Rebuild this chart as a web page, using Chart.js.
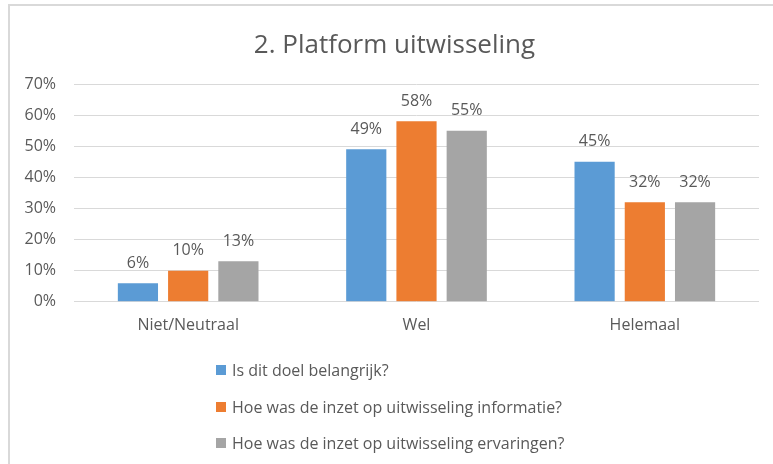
<!DOCTYPE html>
<html>
<head>
<meta charset="utf-8">
<script src="https://cdn.jsdelivr.net/npm/chart.js@4/dist/chart.umd.min.js"></script>
<style>
  html, body { margin: 0; padding: 0; background: #fff; }
  #wrap { position: relative; width: 773px; height: 464px; overflow: hidden; font-family: "Open Sans", sans-serif; }
  #frame { position: absolute; left: 8px; top: 4px; right: 0; bottom: 0; border-left: 2px solid #d9d9d9; border-top: 2px solid #d9d9d9; pointer-events: none; }
  canvas { position: absolute; left: 0; top: 0; }
  #title { position: absolute; left: 16px; right: 0; top: 28px; margin: 0; line-height: 30px; font-size: 26px; font-weight: normal; color: #595959; text-align: center; }
  #legend { position: absolute; left: 216px; top: 352px; margin: 0; padding: 0; list-style: none; }
  #legend li { height: 36.5px; display: flex; align-items: center; font-size: 16px; color: #595959; white-space: nowrap; }
  #legend li span { display: inline-block; width: 10px; height: 10px; margin-right: 6px; }
</style>
</head>
<body>
<div id="wrap">
  <canvas id="chart" width="773" height="464"></canvas>
  <h1 id="title">2. Platform uitwisseling</h1>
  <ul id="legend"></ul>
  <div id="frame"></div>
</div>
<script>
const categories = ["Niet/Neutraal", "Wel", "Helemaal"]
const seriesNames = [
  "Is dit doel belangrijk?",
  "Hoe was de inzet op uitwisseling informatie?",
  "Hoe was de inzet op uitwisseling ervaringen?"
]
const belangrijk = [6, 49, 45]
const informatie = [10, 58, 32]
const ervaringen = [13, 55, 32]
const colors = ["#5B9BD5", "#ED7D31", "#A5A5A5"]

const font = "'Open Sans', sans-serif"
const textColor = "#595959"

// value labels above each bar
const barLabels = {
  id: "barLabels",
  afterDatasetsDraw(chart) {
    const ctx = chart.ctx
    ctx.save()
    ctx.font = "16px " + font
    ctx.fillStyle = textColor
    ctx.textAlign = "center"
    ctx.textBaseline = "bottom"
    chart.data.datasets.forEach((ds, i) => {
      chart.getDatasetMeta(i).data.forEach((bar, j) => {
        ctx.fillText(ds.data[j] + "%", bar.x, bar.y - 12)
      })
    })
    ctx.restore()
  }
}

const chart = new Chart(document.getElementById("chart"), {
  type: "bar",
  data: {
    labels: categories,
    datasets: [belangrijk, informatie, ervaringen].map((d, i) => ({
      label: seriesNames[i],
      data: d,
      backgroundColor: colors[i],
      barPercentage: 0.8,
      categoryPercentage: 0.66
    }))
  },
  options: {
    responsive: false,
    animation: false,
    layout: { padding: { left: 8, right: 14, top: 84, bottom: 115 } },
    plugins: {
      legend: { display: false },
      tooltip: { enabled: false },
      title: { display: false }
    },
    scales: {
      x: {
        grid: { display: false, drawTicks: false },
        border: { display: false },
        ticks: { color: textColor, font: { family: font, size: 16 }, padding: 14 }
      },
      y: {
        min: 0,
        max: 70,
        afterFit(scale) { scale.width = 66 },
        grid: { color: "#d9d9d9", drawTicks: false },
        border: { display: false },
        ticks: {
          stepSize: 10,
          padding: 18,
          color: textColor,
          font: { family: font, size: 16 },
          callback: v => v + "%"
        }
      }
    }
  },
  plugins: [barLabels]
})

const legend = document.getElementById("legend")
chart.data.datasets.forEach(ds => {
  const li = document.createElement("li")
  const box = document.createElement("span")
  box.style.background = ds.backgroundColor
  li.appendChild(box)
  li.appendChild(document.createTextNode(ds.label))
  legend.appendChild(li)
})
</script>
</body>
</html>
